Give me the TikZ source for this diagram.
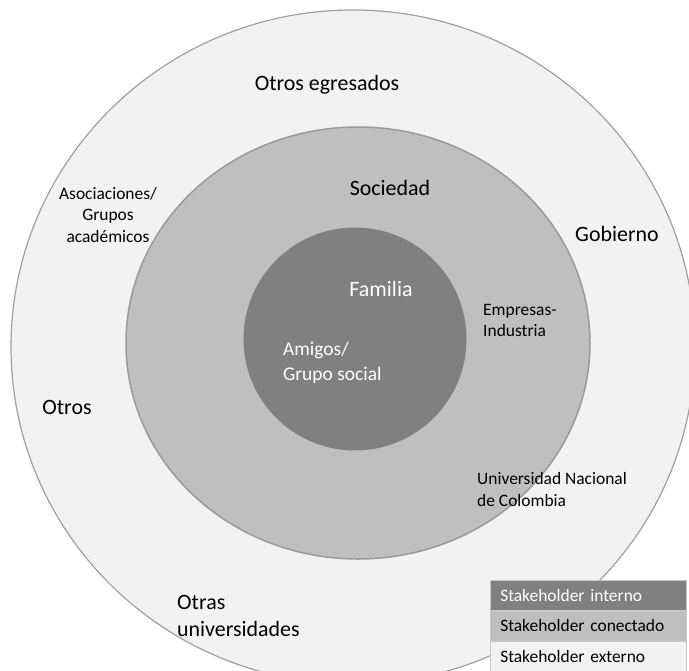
\documentclass[tikz,border=0pt]{standalone}
\usepackage{fontspec}
\setmainfont{Carlito}
\definecolor{outerfill}{HTML}{F2F2F2}
\definecolor{outerline}{HTML}{A0A0A0}
\definecolor{midfill}{HTML}{BFBFBF}
\definecolor{midline}{HTML}{9A9A9A}
\definecolor{innerfill}{HTML}{808080}
\begin{document}
\begin{tikzpicture}[x=1bp,y=-1bp,
  biglabel/.style={font=\fontsize{22}{27}\selectfont, inner sep=0pt, text=black},
  smalllabel/.style={font=\fontsize{17.5}{22}\selectfont, inner sep=0pt, text=black},
  legendrow/.style={draw=outerline!60, line width=0.5bp, minimum height=30bp,
    text width=176bp, inner xsep=10bp, inner ysep=0pt, align=left,
    font=\fontsize{17.5}{21}\selectfont, anchor=north west}]
\useasboundingbox (0,0) rectangle (689,671);
\clip (0,0) rectangle (689,671);
\fill[white] (0,0) rectangle (689,671);

% three rings of stakeholders
\draw[fill=outerfill, draw=outerline, line width=1.2bp]
  (353,347) ellipse [x radius=342, y radius=337];
\draw[fill=midfill, draw=midline, line width=1.5bp]
  (358,343) ellipse [x radius=232, y radius=216];
\fill[innerfill] (355,339) circle [radius=111.5];

% external ring
\node[biglabel] (egresados) at (327,85) {Otros egresados};
\node[smalllabel, align=center] (asociaciones) at (108,215) {Asociaciones/\\Grupos\\académicos};
\node[biglabel] (gobierno) at (617,234) {Gobierno};
\node[biglabel] (otros) at (67,407) {Otros};
\node[biglabel, align=left, anchor=west, font=\fontsize{22}{28}\selectfont] (otrasuniv) at (177,616) {Otras\\universidades};

% connected ring
\node[biglabel] (sociedad) at (390,188) {Sociedad};
\node[smalllabel, align=left, anchor=west, font=\fontsize{17.5}{21}\selectfont] (empresas) at (483,320.5) {Empresas-\\Industria};
\node[smalllabel, align=left, anchor=west, font=\fontsize{17.5}{23}\selectfont] (unal) at (477,489.5) {Universidad Nacional\\de Colombia};

% internal circle
\node[biglabel, text=white] (familia) at (381,289) {Familia};
\node[biglabel, text=white, align=left, anchor=west, font=\fontsize{19.5}{25}\selectfont] (amigos) at (283,362.5) {Amigos/\\Grupo social};

% legend
\node[legendrow, fill=innerfill, text=white] (leginterno) at (490,580) {Stakeholder interno};
\node[legendrow, fill=midfill] (legconectado) at (leginterno.south west) {Stakeholder conectado};
\node[legendrow, fill=outerfill] (legexterno) at (legconectado.south west) {Stakeholder externo};
\end{tikzpicture}
\end{document}
